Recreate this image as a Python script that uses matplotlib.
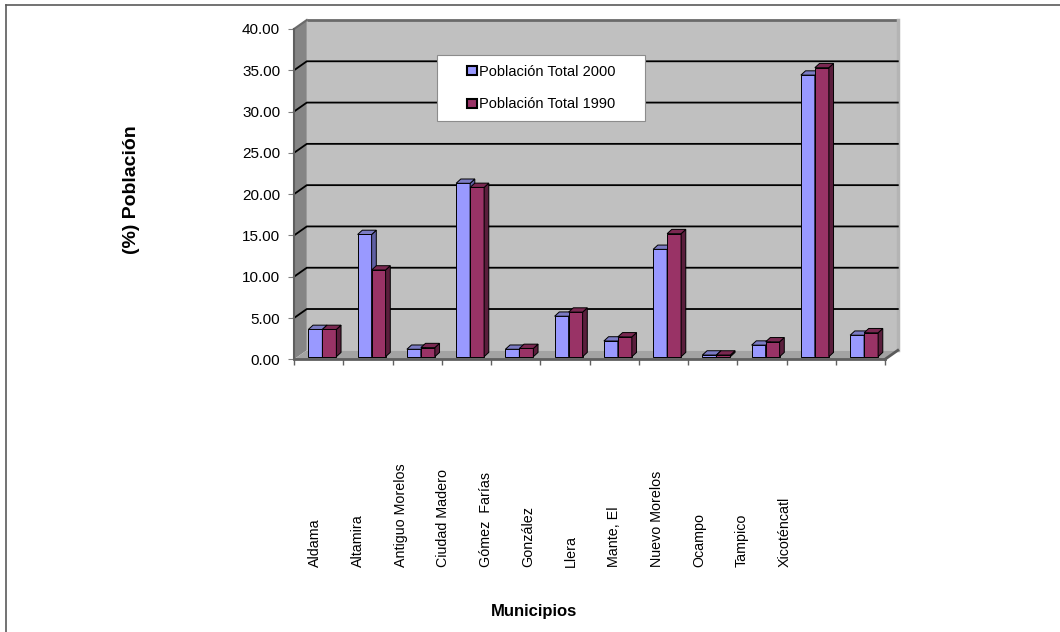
import matplotlib
matplotlib.use("Agg")
import matplotlib.pyplot as plt
from matplotlib.patches import Polygon, Rectangle, Patch
from matplotlib.lines import Line2D
from matplotlib.ticker import FuncFormatter
import numpy as np

plt.rcParams['font.family'] = ['Liberation Sans', 'DejaVu Sans']

# ---- data -------------------------------------------------------------
municipios = ["Aldama", "Altamira", "Antiguo Morelos", "Ciudad Madero",
              "Gómez  Farías", "González", "Llera", "Mante, El",
              "Nuevo Morelos", "Ocampo", "Tampico", "Xicoténcatl"]
pob_2000 = [3.3, 14.8, 0.9, 21.0, 0.9, 4.9, 1.9, 13.0, 0.2, 1.4, 34.1, 2.6]
pob_1990 = [3.3, 10.5, 1.1, 20.5, 1.0, 5.4, 2.4, 14.9, 0.2, 1.8, 35.0, 2.9]
series_labels = ["Población Total 2000", "Población Total 1990"]
y_ticks = [0, 5, 10, 15, 20, 25, 30, 35, 40]

# ---- styling ----------------------------------------------------------
C2000 = ("#9999ff", "#5f5fa3", "#7b7bc4")   # front, side, top
C1990 = ("#993366", "#5a1e3c", "#7a2851")
W, H = 1060, 632

def fx(x):
    return x / W

def fy(y):
    return 1 - y / H

fig = plt.figure(figsize=(W / 100, H / 100), dpi=100)
fig.patch.set_facecolor("white")

# frame lines of the chart area
fig.add_artist(Line2D([fx(6), fx(6)], [fy(5), 0], transform=fig.transFigure,
                      color="#5a5a5a", lw=1.2))
fig.add_artist(Line2D([fx(6), 1], [fy(5), fy(5)], transform=fig.transFigure,
                      color="#5a5a5a", lw=1.2))

ax = fig.add_axes([fx(294), fy(359.3), fx(591), 330.3 / H])
ax.set_xlim(0, len(municipios))
ax.set_ylim(0, 40)
ax.patch.set_visible(False)

n = len(municipios)
DX, DY = 0.26, 1.09          # depth of the box (slots, value units)

# walls and floor
ax.add_patch(Polygon([(DX, DY), (n + DX, DY), (n + DX, 40 + DY), (DX, 40 + DY)],
                     closed=True, facecolor="#c0c0c0", edgecolor="none",
                     zorder=0.5, clip_on=False))
ax.add_patch(Polygon([(0, 0), (DX, DY), (DX, 40 + DY), (0, 40)],
                     closed=True, facecolor="#858585", edgecolor="none",
                     zorder=0.6, clip_on=False))
ax.add_patch(Polygon([(0, 0), (n, 0), (n + DX, DY), (DX, DY)],
                     closed=True, facecolor="#a3a3a3", edgecolor="none",
                     zorder=0.6, clip_on=False))
# wall rims
ax.plot([DX, n + DX], [40 + DY, 40 + DY], color="#6a6a6a", lw=2,
        zorder=0.8, clip_on=False, solid_capstyle="butt")
ax.plot([0, DX], [40, 40 + DY], color="#6a6a6a", lw=1.5, zorder=0.8, clip_on=False)
ax.plot([n + DX, n + DX], [DY, 40 + DY], color="#b4b4b4", lw=2.5,
        zorder=0.8, clip_on=False)
ax.plot([n, n + DX], [0, DY], color="#5a5a5a", lw=2, zorder=0.8, clip_on=False)

# gridlines across side wall and back wall
for v in y_ticks[1:-1]:
    ax.plot([0, DX, n + DX], [v, v + DY, v + DY], color="black", lw=1.3,
            zorder=1, clip_on=False)

# 3-D style columns
BX, BY = 0.076, 0.315        # offset of the column front plane
BW = 0.284                   # column width (slots)
DDX, DDY = 0.095, 0.52       # column depth

def draw_series(xs, vals, colors, z):
    front, side, top = colors
    ax.bar(xs, vals, width=BW, bottom=BY, align="edge", color=front,
           edgecolor="black", linewidth=0.7, zorder=z, clip_on=False)
    for x, v in zip(xs, vals):
        y1 = BY + v
        ax.add_patch(Polygon([(x + BW, BY), (x + BW + DDX, BY + DDY),
                              (x + BW + DDX, y1 + DDY), (x + BW, y1)],
                             closed=True, facecolor=side, edgecolor="black",
                             lw=0.7, zorder=z, clip_on=False))
        ax.add_patch(Polygon([(x, y1), (x + BW, y1), (x + BW + DDX, y1 + DDY),
                              (x + DDX, y1 + DDY)],
                             closed=True, facecolor=top, edgecolor="black",
                             lw=0.7, zorder=z, clip_on=False))

idx = np.arange(n)
draw_series(idx + 0.5 - BW + BX, pob_2000, C2000, 3)
draw_series(idx + 0.5 + BX, pob_1990, C1990, 4)

# axes: ticks and spines
ax.set_yticks(y_ticks)
ax.yaxis.set_major_formatter(FuncFormatter(lambda v, p: f"{v:.2f}"))
ax.tick_params(axis="y", direction="out", length=4, color="#808080",
               labelsize=11, pad=6)
ax.set_xticks(np.arange(n + 1))
ax.set_xticklabels([])
ax.tick_params(axis="x", direction="out", length=4, color="#606060", width=1)
for s in ("top", "right"):
    ax.spines[s].set_visible(False)
ax.spines["left"].set_color("#5f5f5f")
ax.spines["left"].set_linewidth(1.5)
ax.spines["bottom"].set_color("#5f5f5f")
ax.spines["bottom"].set_linewidth(2)

ax.set_ylabel("(%) Población", fontsize=14, fontweight="bold")
ax.yaxis.set_label_coords((132 - 294) / 591, (359.3 - 190) / 330.3)
ax.yaxis.label.set_va("center")

# category labels
lab = fig.add_axes([fx(294), fy(567), fx(512), 0.0001])
lab.set_xlim(-0.5, n - 0.5)
lab.set_xticks(idx)
lab.set_xticklabels(municipios, rotation=90)
lab.tick_params(axis="x", top=True, labeltop=True, bottom=False,
                labelbottom=False, length=0, pad=0, labelsize=10.3)
lab.set_yticks([])
for s in lab.spines.values():
    s.set_visible(False)
lab.patch.set_visible(False)

fig.text(fx(534), fy(611.7), "Municipios", ha="center", va="center",
         fontsize=12, fontweight="bold")

# legend
fig.add_artist(Rectangle((fx(437), fy(121)), fx(208), 66 / H,
                         transform=fig.transFigure, facecolor="white",
                         edgecolor="#8c8c8c", lw=0.8, zorder=2))
handles = [Patch(facecolor=C2000[0], edgecolor="black", lw=1.5),
           Patch(facecolor=C1990[0], edgecolor="black", lw=1.5)]
fig.legend(handles, series_labels, loc="center",
           bbox_to_anchor=(fx(541), fy(88)), frameon=False, fontsize=10.5,
           handlelength=0.7, handleheight=0.55, handletextpad=0.15,
           labelspacing=1.3, borderpad=0)

fig.savefig("out.png", dpi=100)
